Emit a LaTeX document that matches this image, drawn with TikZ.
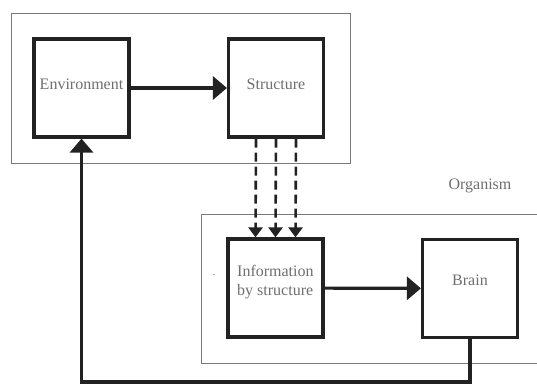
\documentclass[tikz,border=0pt]{standalone}
\usepackage{fontspec}
\setmainfont{Liberation Serif}
\usetikzlibrary{arrows.meta}
\definecolor{ink}{HTML}{222222}
\definecolor{labelgray}{HTML}{6E6E6E}
\definecolor{zonegray}{HTML}{7A7A7A}
\tikzset{
  block/.style={draw=ink, line width=3.2pt, minimum width=95pt, minimum height=98pt, inner sep=0pt},
  zone/.style={draw=zonegray, line width=0.9pt, inner sep=0pt},
  txt/.style={text=labelgray, font=\fontsize{16}{19}\selectfont, inner sep=0pt},
  flow/.style={draw=ink, line width=3.2pt, -{Triangle[length=14pt,width=23pt]}},
  feed/.style={draw=ink, line width=2.6pt, dash pattern=on 9pt off 5pt, -{Triangle[length=10pt,width=14pt]}}
}
\begin{document}
\begin{tikzpicture}[x=1pt,y=-1pt]
  \useasboundingbox (0,0) rectangle (537,387);
  \clip (0,0) rectangle (537,387);
  \node[zone, minimum width=339pt, minimum height=150pt] (world) at (180.5,88) {};
  \node[zone, minimum width=370pt, minimum height=149pt] (organism) at (386,288.5) {};
  \node[block] (env) at (81.5,88) {};
  \node[block] (struct) at (276,88) {};
  \node[block] (info) at (275.5,288) {};
  \node[block] (brain) at (470,288.5) {};
  \node[txt] (envtext) at ([yshift=4pt]env.center) {Environment};
  \node[txt] (structtext) at ([yshift=4pt]struct.center) {Structure};
  \node[txt, anchor=west, align=left] (infotext) at (237,282.5) {Information\\by structure};
  \node[txt] (braintext) at ([yshift=8pt]brain.center) {Brain};
  \node[txt] (orgtext) at (480,186) {Organism};
  \node[txt, font=\fontsize{10}{12}\selectfont] (speck) at (214,275) {.};
  \coordinate (loop) at (0,382);
  \draw[flow] (env) -- (struct);
  \draw[flow] (info) -- (brain);
  \foreach \dx in {-20,0,20}
    \draw[feed] ([xshift=\dx pt]struct.south) -- ([xshift=\dx pt]info.north);
  \draw[flow] (brain.south) -- (brain.south |- loop) -| (env.south);
\end{tikzpicture}
\end{document}
